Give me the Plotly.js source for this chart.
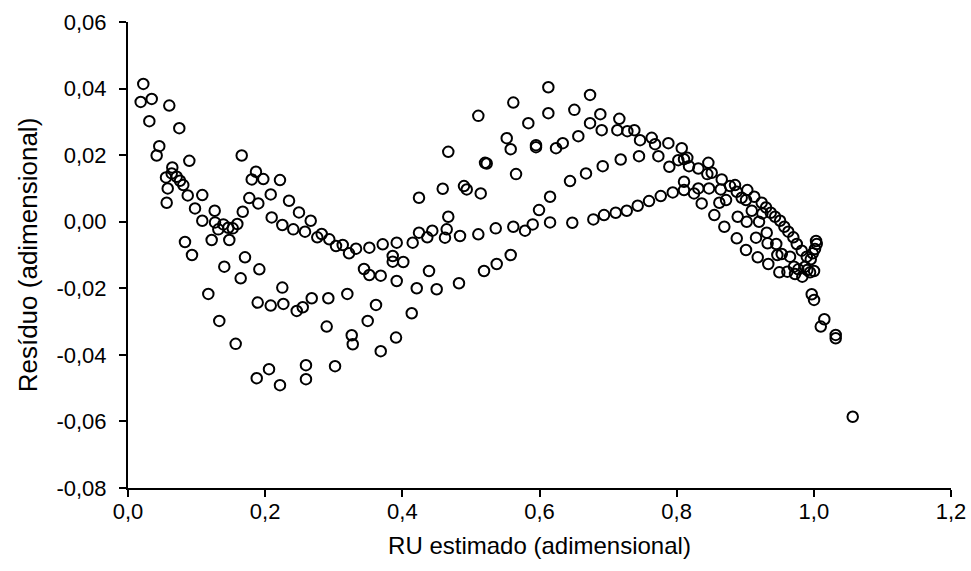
<!DOCTYPE html>
<html>
<head>
<meta charset="utf-8">
<script src="https://cdn.plot.ly/plotly-3.0.1.min.js"></script>
<style>html,body{margin:0;padding:0;background:#fff;}#chart{width:971px;height:571px;}</style>
</head>
<body>
<div id="chart"></div>
<script>
const ruEstimado = [
0.0223,0.0185,0.0346,0.0602,0.0311,0.0748,0.0456,0.0418,0.1658,0.0894,
0.0646,0.0554,0.0637,0.0710,0.0579,0.0758,0.0806,0.0564,0.0871,0.1083,
0.0977,0.1804,0.1866,0.1769,0.1900,0.1083,0.1264,0.1673,0.1269,0.1317,
0.1390,0.1463,0.1527,0.1594,0.1220,0.1477,0.0831,0.0933,0.1706,0.1404,
0.1643,0.1915,0.1171,0.1891,0.1331,0.1570,0.1877,0.1973,0.2216,0.2081,
0.2348,0.2493,0.2664,0.2095,0.2250,0.2410,0.2581,0.2760,0.2824,0.2935,
0.3033,0.3131,0.3223,0.3325,0.3519,0.3714,0.3918,0.3860,0.3860,0.3441,
0.3519,0.3685,0.3918,0.2250,0.2081,0.2265,0.2460,0.2548,0.2679,0.2921,
0.3198,0.3616,0.2897,0.3495,0.3262,0.3277,0.3685,0.3908,0.2056,0.2595,
0.2595,0.2216,0.3019,0.6129,0.5618,0.5108,0.6129,0.5837,0.5522,0.5580,
0.5949,0.5949,0.4670,0.5206,0.5230,0.5658,0.6154,0.4589,0.4899,0.4939,
0.5143,0.4243,0.4670,0.5993,0.6154,0.4151,0.4243,0.4437,0.4364,0.4647,
0.4622,0.4841,0.5108,0.5362,0.5618,0.5789,0.5901,0.4014,0.4389,0.5191,
0.5376,0.5580,0.4210,0.4501,0.4826,0.6737,0.6508,0.6887,0.7164,0.6737,
0.6907,0.7135,0.7281,0.7383,0.7466,0.7636,0.7685,0.7879,0.8074,0.6566,
0.6339,0.6241,0.7733,0.8024,0.8107,0.8155,0.7893,0.8180,0.8316,0.7451,
0.7184,0.6922,0.6678,0.6445,0.6478,0.6785,0.6941,0.7111,0.7272,0.7432,
0.7597,0.7768,0.7943,0.8107,0.8107,0.8253,0.8316,0.8365,0.8462,0.8447,
0.8511,0.8657,0.8472,0.8642,0.8778,0.8851,0.8876,0.9030,0.8948,0.9132,
0.9011,0.8720,0.8622,0.9240,0.9303,0.9095,0.9250,0.9372,0.9435,0.9508,
0.8549,0.8890,0.9021,0.9201,0.9570,0.9628,0.9701,0.8695,0.9313,0.9157,
0.8876,0.9326,0.9452,0.9751,0.9824,1.0032,1.0042,1.0017,0.9984,0.9011,
0.9468,0.9532,0.9653,0.9897,0.9955,0.9182,0.9336,0.9497,0.9614,0.9711,
0.9726,0.9832,0.9872,0.9905,1.0003,0.9945,0.9774,0.9969,1.0003,1.0153,
1.0101,1.0319,1.0319,1.0567,0.4137
];
const residuo = [
0.0414,0.0360,0.0369,0.0349,0.0302,0.0281,0.0227,0.0199,0.0199,0.0183,
0.0163,0.0133,0.0145,0.0135,0.0100,0.0123,0.0110,0.0057,0.0079,0.0080,
0.0040,0.0127,0.0150,0.0071,0.0055,0.0003,0.0033,0.0030,-0.0002,-0.0023,
-0.0008,-0.0018,-0.0020,-0.0007,-0.0055,-0.0055,-0.0061,-0.0100,-0.0107,-0.0135,
-0.0170,-0.0143,-0.0217,-0.0243,-0.0298,-0.0367,-0.0470,0.0128,0.0125,0.0082,
0.0063,0.0028,0.0003,0.0013,-0.0010,-0.0023,-0.0030,-0.0047,-0.0037,-0.0053,
-0.0073,-0.0070,-0.0095,-0.0081,-0.0078,-0.0068,-0.0063,-0.0103,-0.0120,-0.0142,
-0.0160,-0.0162,-0.0178,-0.0198,-0.0252,-0.0247,-0.0268,-0.0257,-0.0230,-0.0230,
-0.0217,-0.0250,-0.0315,-0.0298,-0.0341,-0.0368,-0.0389,-0.0348,-0.0443,-0.0431,
-0.0473,-0.0491,-0.0434,0.0404,0.0358,0.0318,0.0326,0.0296,0.0251,0.0218,
0.0230,0.0224,0.0210,0.0177,0.0175,0.0143,0.0075,0.0099,0.0107,0.0097,
0.0085,0.0072,0.0015,0.0035,-0.0002,-0.0063,-0.0033,-0.0027,-0.0047,-0.0023,
-0.0048,-0.0043,-0.0038,-0.0020,-0.0015,-0.0027,-0.0008,-0.0121,-0.0148,-0.0148,
-0.0127,-0.0100,-0.0200,-0.0203,-0.0185,0.0381,0.0336,0.0323,0.0309,0.0296,
0.0275,0.0275,0.0272,0.0275,0.0245,0.0252,0.0233,0.0236,0.0221,0.0257,
0.0236,0.0221,0.0197,0.0185,0.0188,0.0192,0.0165,0.0167,0.0160,0.0197,
0.0187,0.0167,0.0145,0.0122,-0.0003,0.0007,0.0020,0.0027,0.0033,0.0048,
0.0062,0.0077,0.0088,0.0120,0.0095,0.0085,0.0100,0.0055,0.0177,0.0143,
0.0147,0.0127,0.0100,0.0097,0.0107,0.0110,0.0090,0.0095,0.0072,0.0075,
0.0065,0.0065,0.0057,0.0057,0.0043,0.0033,0.0025,0.0027,0.0015,0.0003,
0.0020,0.0015,0.0000,0.0000,-0.0015,-0.0030,-0.0047,-0.0015,-0.0033,-0.0048,
-0.0050,-0.0065,-0.0067,-0.0067,-0.0087,-0.0058,-0.0067,-0.0082,-0.0095,-0.0085,
-0.0100,-0.0097,-0.0105,-0.0105,-0.0113,-0.0107,-0.0127,-0.0152,-0.0150,-0.0135,
-0.0157,-0.0165,-0.0135,-0.0145,-0.0148,-0.0152,-0.0143,-0.0218,-0.0235,-0.0293,
-0.0315,-0.0340,-0.0350,-0.0586,-0.0275
];
const xTickVals = [0, 0.2, 0.4, 0.6, 0.8, 1.0, 1.2];
const xTickText = ['0,0', '0,2', '0,4', '0,6', '0,8', '1,0', '1,2'];
const yTickVals = [0.06, 0.04, 0.02, 0, -0.02, -0.04, -0.06, -0.08];
const yTickText = ['0,06', '0,04', '0,02', '0,00', '-0,02', '-0,04', '-0,06', '-0,08'];
const xTitle = 'RU estimado (adimensional)';
const yTitle = 'Resíduo (adimensional)';

const trace = {
  x: ruEstimado, y: residuo, type: 'scatter', mode: 'markers',
  marker: {symbol: 'circle-open', size: 10.5, color: '#000', line: {width: 2, color: '#000'}},
  hoverinfo: 'x+y'
};
const fam = 'Liberation Sans, Arial, sans-serif';
const tickFont = {family: fam, size: 22, color: '#000'};
const layout = {
  width: 971, height: 571,
  margin: {l: 128, r: 20, t: 22, b: 83},
  paper_bgcolor: '#fff', plot_bgcolor: '#fff',
  showlegend: false,
  font: tickFont,
  xaxis: {
    range: [0, 1.2], tickmode: 'array', tickvals: xTickVals, ticktext: xTickText,
    showgrid: false, zeroline: false, showline: true, linecolor: '#000', linewidth: 2,
    ticks: 'outside', ticklen: 7, tickwidth: 2, tickcolor: '#000',
    tickfont: tickFont, ticklabelstandoff: -4,
    title: {text: xTitle, font: {family: fam, size: 24, color: '#000'}, standoff: 14}
  },
  yaxis: {
    range: [-0.08, 0.06], tickmode: 'array', tickvals: yTickVals, ticktext: yTickText,
    showgrid: false, zeroline: false, showline: true, linecolor: '#000', linewidth: 2,
    ticks: 'outside', ticklen: 7, tickwidth: 2, tickcolor: '#000',
    tickfont: tickFont, ticklabelstandoff: 8,
    title: {text: yTitle, font: {family: fam, size: 26, color: '#000'}, standoff: 11}
  }
};
Plotly.newPlot('chart', [trace], layout, {displayModeBar: false, staticPlot: true});
</script>
</body>
</html>
